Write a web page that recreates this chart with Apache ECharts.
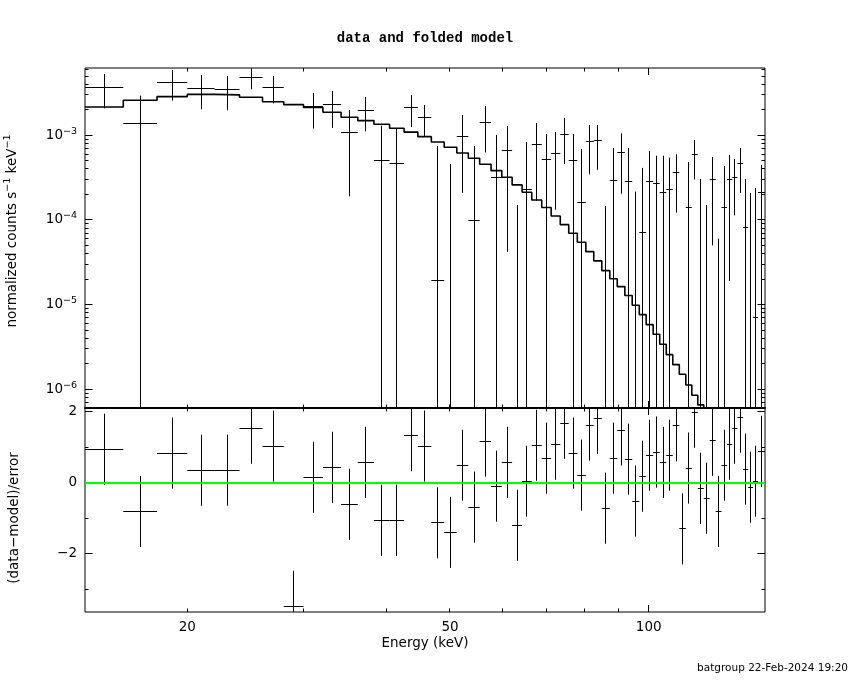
<!DOCTYPE html>
<html>
<head>
<meta charset="utf-8">
<title>data and folded model</title>
<script src="https://cdn.jsdelivr.net/npm/echarts@6.0.0/dist/echarts.min.js"></script>
<style>
  html, body { margin: 0; padding: 0; background: #fff; }
  #main { width: 850px; height: 680px; }
</style>
</head>
<body>
<div id="main"></div>
<script>
// energy bin edges (keV), 59 channels
var edges = [14, 16, 18, 20, 22, 24, 26, 28, 30, 32.1, 34.2, 36.25, 38.35, 40.5,
  42.6, 44.7, 46.85, 49.0, 51.2, 53.3, 55.45, 57.7, 59.9, 62.1, 64.3, 66.5, 68.85,
  71.15, 73.45, 75.65, 77.95, 80.3, 82.55, 84.9, 87.3, 89.6, 92.0, 94.4, 96.75,
  99.1, 101.55, 103.9, 106.3, 108.75, 111.25, 113.8, 116.2, 118.65, 121.15, 123.7,
  126.3, 128.9, 131.4, 133.8, 136.25, 138.9, 141.45, 143.85, 146.4, 150];

// normalized counts s^-1 keV^-1
var rate = [3.69e-3, 1.39e-3, 4.23e-3, 3.59e-3, 3.49e-3, 4.84e-3, 3.69e-3, -2.03e-3, 2.18e-3, 2.28e-3,
  1.09e-3, 1.97e-3, 4.97e-4, 4.67e-4, 2.12e-3, 1.63e-3, 1.94e-5, -2.0e-4, 9.73e-4, 9.9e-5,
  1.42e-3, 3.13e-4, 6.65e-4, -3.93e-4, 2.28e-4, 7.83e-4, 5.11e-4, 6.13e-4, 1.03e-3, 4.97e-4,
  1.62e-4, 8.34e-4, 8.57e-4, -2.85e-4, 2.94e-4, 6.30e-4, 2.86e-4, -2.14e-4, 7.15e-5, 2.86e-4,
  2.66e-4, 2.08e-4, 2.30e-4, 3.59e-4, -3.9e-4, 1.41e-4, 5.90e-4, -5.7e-5, -1.18e-4, 3.02e-4,
  -2.56e-4, 1.41e-4, 3.02e-4, 3.19e-4, 4.58e-4, 8.19e-5, -3.1e-5, 7.09e-6, 2.09e-4];

var rateErr = [1.61e-3, 1.55e-3, 1.67e-3, 1.56e-3, 1.52e-3, 1.35e-3, 1.32e-3, 1.25e-3, 9.8e-4, 1.06e-3,
  9.0e-4, 8.6e-4, 8.0e-4, 7.4e-4, 8.7e-4, 6.5e-4, 7.28e-4, 6.58e-4, 7.64e-4, 6.48e-4,
  7.94e-4, 6.95e-4, 6.23e-4, 5.43e-4, 6.06e-4, 6.15e-4, 5.25e-4, 4.81e-4, 5.73e-4, 5.39e-4,
  5.27e-4, 4.89e-4, 4.66e-4, 4.31e-4, 4.14e-4, 4.26e-4, 4.22e-4, 4.30e-4, 3.40e-4, 3.67e-4,
  3.08e-4, 3.66e-4, 3.14e-4, 2.37e-4, 3.0e-4, 3.43e-4, 2.90e-4, 3.62e-4, 2.68e-4, 2.52e-4,
  3.16e-4, 2.93e-4, 2.83e-4, 2.06e-4, 2.50e-4, 2.23e-4, 2.39e-4, 2.31e-4, 2.37e-4];

// folded model
var model = [2.16e-3, 2.59e-3, 2.86e-3, 3.04e-3, 3.00e-3, 2.81e-3, 2.49e-3, 2.30e-3, 2.13e-3, 1.87e-3,
  1.63e-3, 1.49e-3, 1.35e-3, 1.21e-3, 1.09e-3, 9.63e-4, 8.34e-4, 7.21e-4, 6.18e-4, 5.35e-4,
  4.55e-4, 3.82e-4, 3.19e-4, 2.59e-4, 2.12e-4, 1.72e-4, 1.40e-4, 1.11e-4, 8.79e-5, 6.96e-5,
  5.45e-5, 4.22e-5, 3.28e-5, 2.52e-5, 2.02e-5, 1.63e-5, 1.28e-5, 9.82e-6, 7.61e-6, 5.80e-6,
  4.46e-6, 3.40e-6, 2.56e-6, 1.95e-6, 1.50e-6, 1.12e-6, 8.50e-7, 6.53e-7, 4.9e-7, 3.7e-7,
  2.8e-7, 2.1e-7, 1.6e-7, 1.2e-7, 9.0e-8, 7.0e-8, 5.2e-8, 4.0e-8, 3.0e-8];

// (data-model)/error
var resid = [0.94, -0.81, 0.83, 0.35, 0.35, 1.53, 1.03, -3.48, 0.15, 0.43,
  -0.61, 0.57, -1.06, -1.06, 1.32, 1.03, -1.13, -1.40, 0.49, -0.69,
  1.17, -0.10, 0.57, -1.20, 0.04, 1.05, 0.69, 1.08, 1.67, 0.83,
  0.21, 1.62, 1.81, -0.72, 0.69, 1.48, 0.66, -0.52, 0.18, 0.77,
  0.86, 0.57, 0.77, 1.60, -1.30, 0.41, 1.98, -0.16, -0.44, 1.19,
  -0.81, 0.49, 1.08, 1.53, 1.84, 0.38, -0.13, 0.04, 0.88];

// ticks and labels
var xLabels = [20, 50, 100];
var xMinorTicks = [20, 30, 40, 50, 60, 70, 80, 90];
var xMajorTicks = [100];
var yTopLabels = [1e-6, 1e-5, 1e-4, 1e-3];
var yTopMinor = [7e-7, 8e-7, 9e-7,
  2e-6, 3e-6, 4e-6, 5e-6, 6e-6, 7e-6, 8e-6, 9e-6,
  2e-5, 3e-5, 4e-5, 5e-5, 6e-5, 7e-5, 8e-5, 9e-5,
  2e-4, 3e-4, 4e-4, 5e-4, 6e-4, 7e-4, 8e-4, 9e-4,
  2e-3, 3e-3, 4e-3, 5e-3, 6e-3];
var yResLabels = [-2, 0, 2];
var yResMinor = [-3, -1, 1];

var SANS = 'DejaVu Sans';

function crisp(v) { return Math.round(v - 0.5) + 0.5; }
function seg(x1, y1, x2, y2, w) {
  return { type: 'line', shape: { x1: x1, y1: y1, x2: x2, y2: y2 },
    style: { stroke: '#000', lineWidth: w || 1 } };
}

// table built from the arrays
var topData = [], resData = [], modelLine = [];
for (var i = 0; i < rate.length; i++) {
  topData.push([edges[i], edges[i + 1], rate[i], rateErr[i]]);
  resData.push([edges[i], edges[i + 1], resid[i]]);
  modelLine.push([edges[i], model[i]]);
}
modelLine.push([edges[edges.length - 1], model[model.length - 1]]);

function renderTop(params, api) {
  var cs = params.coordSys;
  var lo = api.value(0), hi = api.value(1), v = api.value(2), e = api.value(3);
  var top = cs.y, bot = cs.y + cs.height;
  if (v + e <= 0) return;
  var xl = api.coord([lo, 1e-4])[0], xh = api.coord([hi, 1e-4])[0];
  var xm = crisp(api.coord([(lo + hi) / 2, 1e-4])[0]);
  var kids = [];
  var yA = Math.max(top, api.coord([lo, v + e])[1]);
  var yB = (v - e > 0) ? Math.min(bot, api.coord([lo, v - e])[1]) : bot;
  if (yA < bot) kids.push(seg(xm, yA, xm, yB));
  if (v > 0) {
    var yc = api.coord([lo, v])[1];
    if (yc >= top && yc <= bot) kids.push(seg(xl, crisp(yc), xh, crisp(yc)));
  }
  return { type: 'group', children: kids };
}

function renderRes(params, api) {
  var cs = params.coordSys;
  var lo = api.value(0), hi = api.value(1), r = api.value(2);
  var top = cs.y, bot = cs.y + cs.height;
  var xl = api.coord([lo, 0])[0], xh = api.coord([hi, 0])[0];
  var xm = crisp(api.coord([(lo + hi) / 2, 0])[0]);
  var yA = Math.max(top, api.coord([lo, r + 1])[1]);
  var yB = Math.min(bot, api.coord([lo, r - 1])[1]);
  var yc = api.coord([lo, r])[1];
  var kids = [seg(xm, yA, xm, yB)];
  if (yc >= top && yc <= bot) kids.push(seg(xl, crisp(yc), xh, crisp(yc)));
  return { type: 'group', children: kids };
}

// ticks drawn inside on all four sides: [x, y, dir(0=x,1=y), length]
function renderTick(params, api) {
  var cs = params.coordSys;
  var p = api.coord([api.value(0), api.value(1)]);
  var len = api.value(3);
  if (api.value(2) === 0) {
    var x = crisp(p[0]);
    return { type: 'group', children: [
      seg(x, cs.y + cs.height, x, cs.y + cs.height - len),
      seg(x, cs.y, x, cs.y + len)] };
  }
  var y = crisp(p[1]);
  return { type: 'group', children: [
    seg(cs.x, y, cs.x + len, y),
    seg(cs.x + cs.width, y, cs.x + cs.width - len, y)] };
}

var topTicks = [], resTicks = [];
xMinorTicks.forEach(function (v) { topTicks.push([v, 1e-4, 0, 3.5]); resTicks.push([v, 0, 0, 3.5]); });
xMajorTicks.forEach(function (v) { topTicks.push([v, 1e-4, 0, 7]); resTicks.push([v, 0, 0, 7]); });
yTopMinor.forEach(function (v) { topTicks.push([50, v, 1, 3.5]); });
yTopLabels.forEach(function (v) { topTicks.push([50, v, 1, 7.5]); });
yResMinor.forEach(function (v) { resTicks.push([50, v, 1, 3.5]); });
yResLabels.forEach(function (v) { resTicks.push([50, v, 1, 7.5]); });

var chart = echarts.init(document.getElementById('main'), null, { renderer: 'canvas' });

var option = {
  animation: false,
  backgroundColor: '#fff',
  grid: [
    { left: 85, top: 68, width: 680, height: 340, show: true, borderColor: '#000', borderWidth: 1,
      backgroundColor: 'transparent', containLabel: false, outerBoundsMode: 'none' },
    { left: 85, top: 408, width: 680, height: 204, show: true, borderColor: '#000', borderWidth: 1,
      backgroundColor: 'transparent', containLabel: false, outerBoundsMode: 'none' }
  ],
  xAxis: [
    { type: 'log', gridIndex: 0, min: 14, max: 150,
      axisLine: { show: true, onZero: false, lineStyle: { color: '#000', width: 2 } },
      axisTick: { show: false }, axisLabel: { show: false }, splitLine: { show: false } },
    { type: 'log', gridIndex: 1, min: 14, max: 150,
      axisLine: { show: false }, axisTick: { show: false }, splitLine: { show: false },
      axisLabel: { customValues: xLabels, margin: 8, color: '#000', fontSize: 13.5, fontFamily: SANS } }
  ],
  yAxis: [
    { type: 'log', gridIndex: 0, min: 6.0e-7, max: 6.23e-3,
      axisLine: { show: false }, axisTick: { show: false }, splitLine: { show: false },
      axisLabel: {
        customValues: yTopLabels, margin: 8, color: '#000', fontFamily: SANS,
        formatter: function (v) {
          var ex = Math.round(Math.log10(v));
          return '{b|10}{s|' + (ex < 0 ? '\u2212' + (-ex) : ex) + '}';
        },
        rich: {
          b: { fontSize: 13.5, lineHeight: 18, fontFamily: SANS, color: '#000' },
          s: { fontSize: 9.5, lineHeight: 9, verticalAlign: 'top', fontFamily: SANS, color: '#000' }
        }
      } },
    { type: 'value', gridIndex: 1, min: -3.64, max: 2.10,
      axisLine: { show: false }, axisTick: { show: false }, splitLine: { show: false },
      axisLabel: {
        customValues: yResLabels, margin: 8, color: '#000', fontSize: 13.5, fontFamily: SANS,
        formatter: function (v) { return String(v).replace('-', '\u2212'); }
      } }
  ],
  series: [
    { type: 'line', name: 'model', xAxisIndex: 0, yAxisIndex: 0, data: modelLine, step: 'end',
      showSymbol: false, clip: true, silent: true, z: 2,
      lineStyle: { color: '#000', width: 1.6 } },
    { type: 'custom', name: 'data', xAxisIndex: 0, yAxisIndex: 0, data: topData,
      encode: { x: [0, 1], y: [2] }, renderItem: renderTop, silent: true, z: 3 },
    { type: 'custom', name: 'resid', xAxisIndex: 1, yAxisIndex: 1, data: resData,
      encode: { x: [0, 1], y: [2] }, renderItem: renderRes, silent: true, z: 3,
      markLine: { silent: true, symbol: 'none', label: { show: false },
        lineStyle: { color: '#00ff00', width: 2, type: 'solid' },
        data: [{ yAxis: 0 }] } },
    { type: 'custom', name: 'ticksTop', xAxisIndex: 0, yAxisIndex: 0, data: topTicks,
      encode: { x: 0, y: 1 }, renderItem: renderTick, silent: true, z: 4 },
    { type: 'custom', name: 'ticksRes', xAxisIndex: 1, yAxisIndex: 1, data: resTicks,
      encode: { x: 0, y: 1 }, renderItem: renderTick, silent: true, z: 4 }
  ],
  graphic: [
    { type: 'text', x: 425, y: 38, style: { text: 'data and folded model', fill: '#000',
      fontFamily: 'Liberation Mono', fontSize: 14, fontWeight: 'bold', align: 'center', verticalAlign: 'middle' } },
    { type: 'text', x: 425, y: 643, style: { text: 'Energy (keV)', fill: '#000',
      fontFamily: SANS, fontSize: 13.5, align: 'center', verticalAlign: 'middle' } },
    { type: 'text', x: 12, y: 231, rotation: Math.PI / 2, style: {
      text: '{b|normalized counts s}{s|\u22121}{b| keV}{s|\u22121}', fill: '#000', align: 'center', verticalAlign: 'middle',
      rich: {
        b: { fontSize: 13.5, lineHeight: 18, fontFamily: SANS, fill: '#000' },
        s: { fontSize: 9.5, lineHeight: 9, verticalAlign: 'top', fontFamily: SANS, fill: '#000' }
      } } },
    { type: 'text', x: 14, y: 518, rotation: Math.PI / 2, style: { text: '(data\u2212model)/error', fill: '#000',
      fontFamily: SANS, fontSize: 13.5, align: 'center', verticalAlign: 'middle' } },
    { type: 'text', x: 848, y: 668, style: { text: 'batgroup 22-Feb-2024 19:20', fill: '#000',
      fontFamily: SANS, fontSize: 10.5, align: 'right', verticalAlign: 'middle' } }
  ]
};

chart.setOption(option);
</script>
</body>
</html>
